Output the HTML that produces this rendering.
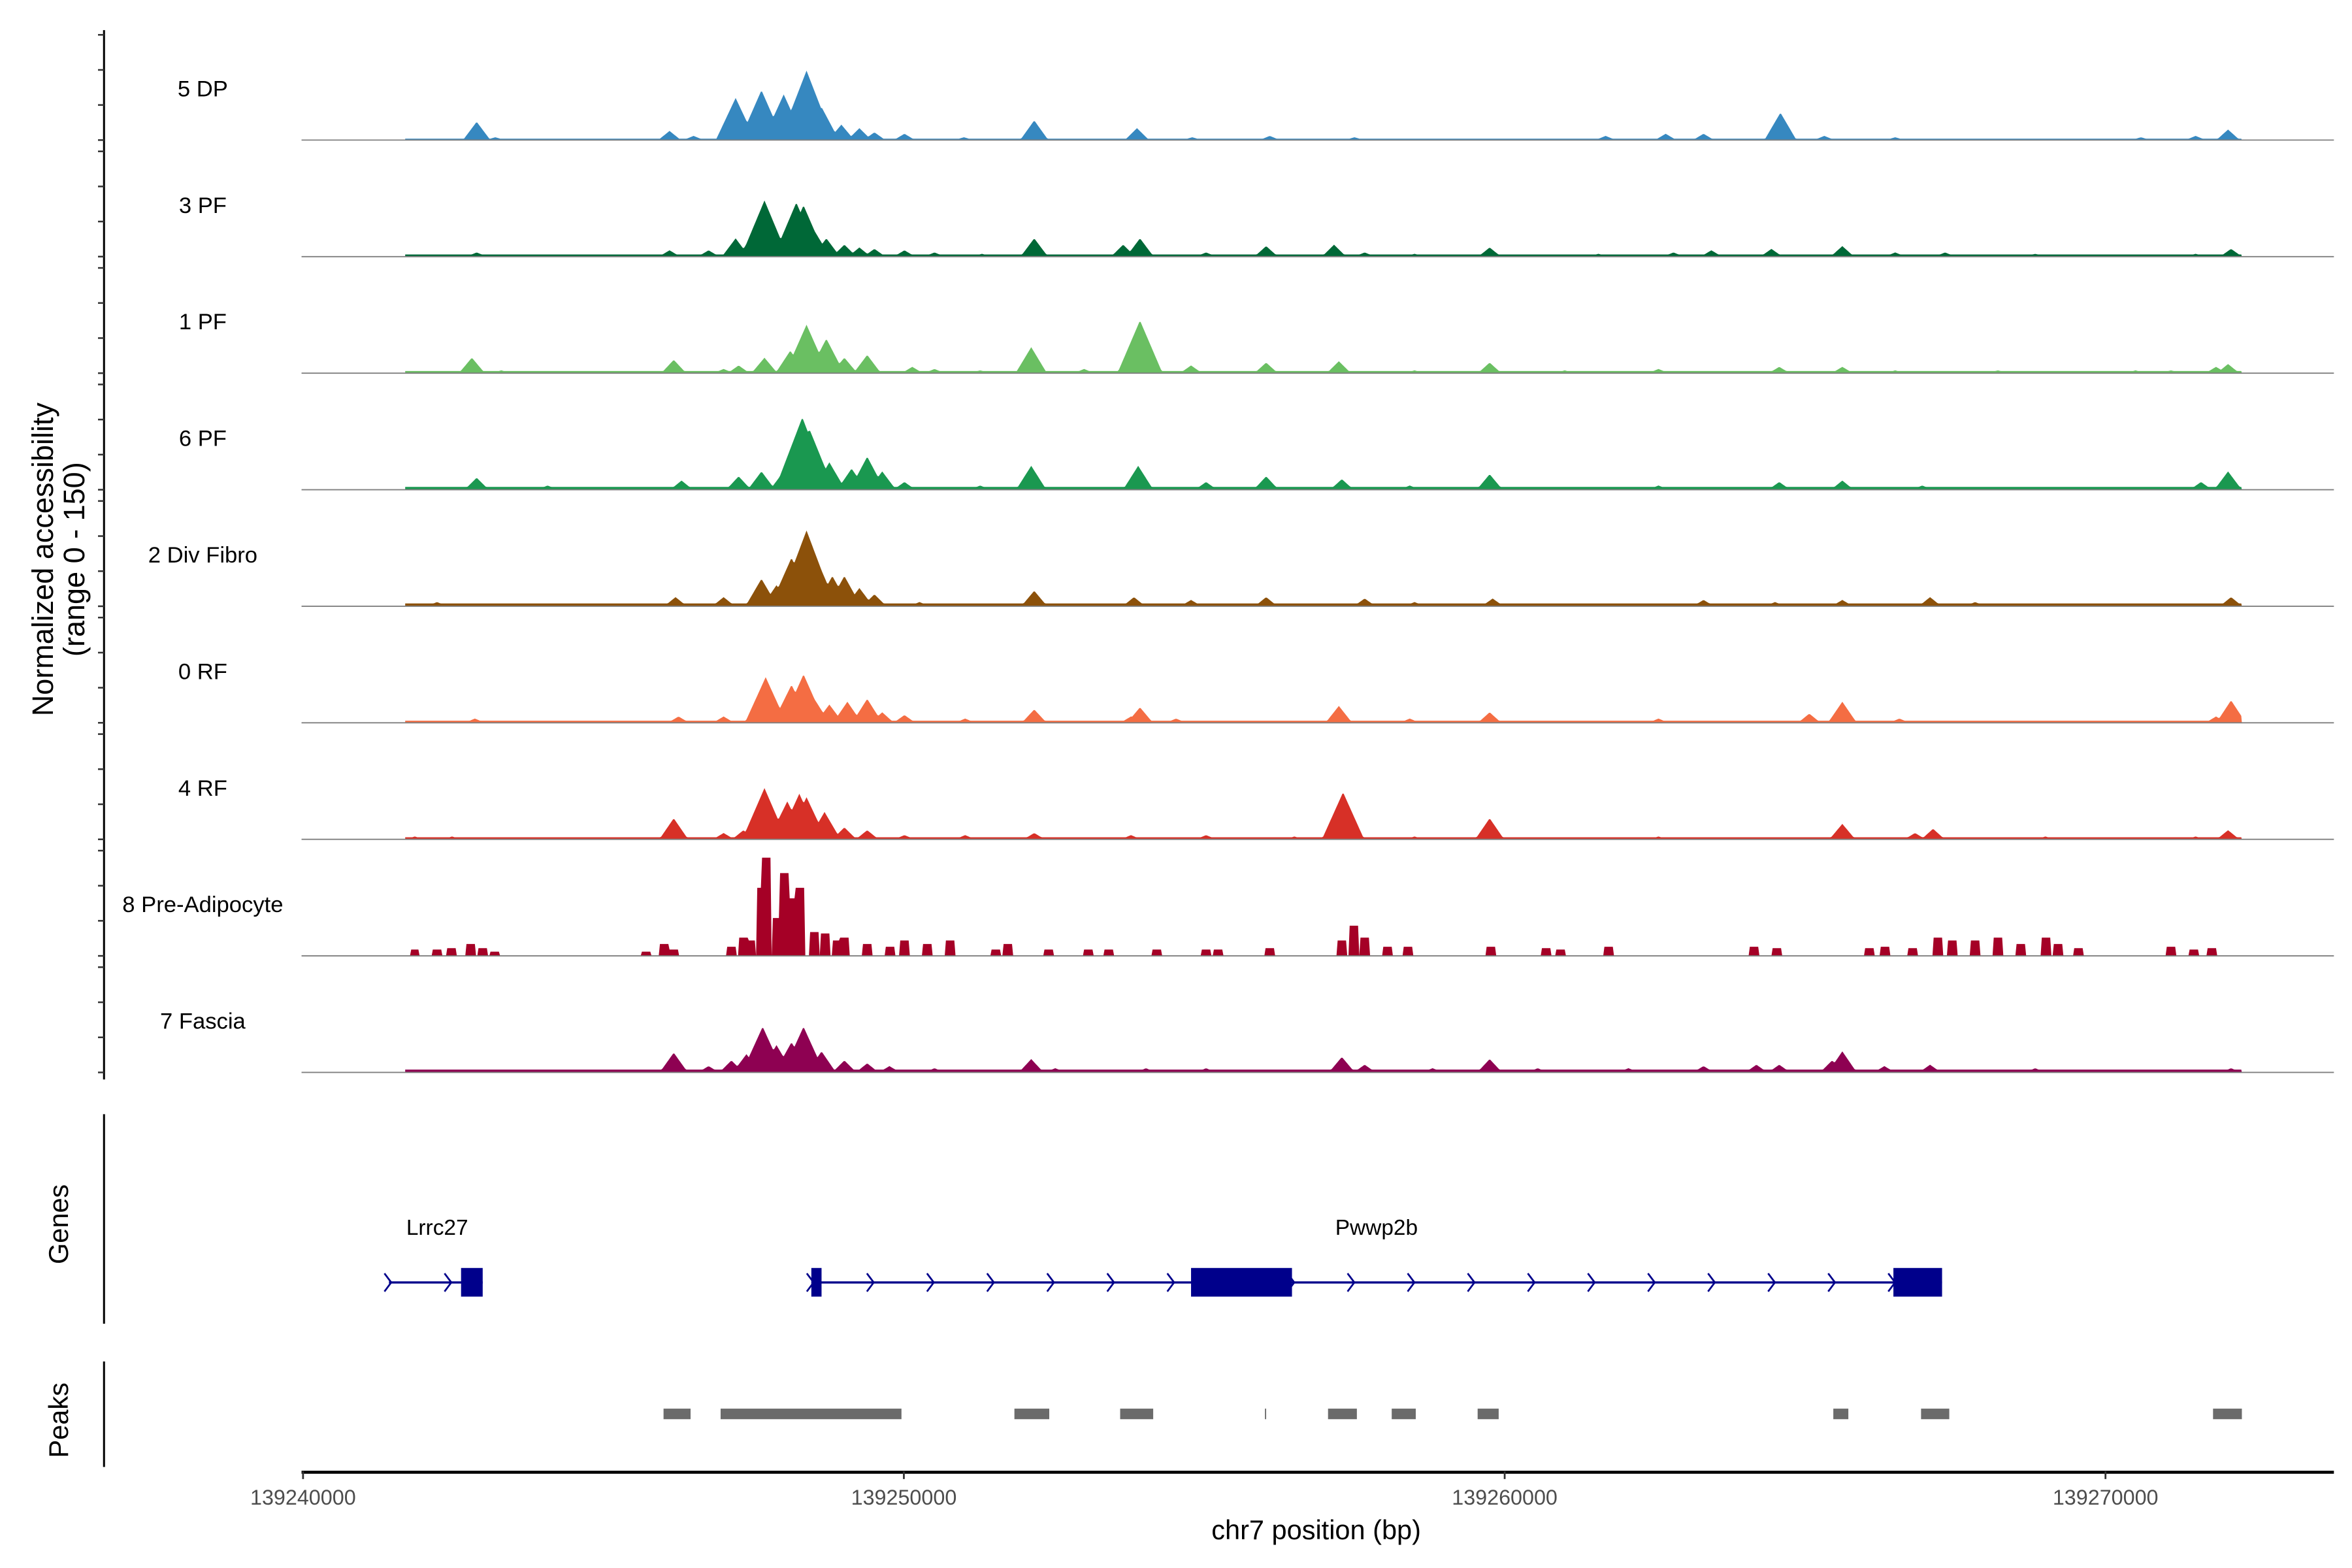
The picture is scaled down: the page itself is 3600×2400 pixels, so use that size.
<!DOCTYPE html>
<html><head><meta charset="utf-8"><style>
html,body{margin:0;padding:0;background:#fff;}
svg{display:block;}
text{font-family:"Liberation Sans",Arial,sans-serif;}
</style></head><body>
<svg id="chart" width="3600" height="2400" viewBox="0 0 1560 1040" xmlns="http://www.w3.org/2000/svg">
<rect x="0" y="0" width="1560" height="1040" fill="#fff"/>
<g id="tracks"></g>
<g id="yaxis"></g>
<text transform="translate(35,371) rotate(-90)" text-anchor="middle" font-size="19.5">Normalized accessibility</text>
<text transform="translate(56,371) rotate(-90)" text-anchor="middle" font-size="19.5">(range 0 - 150)</text>
<line x1="69" y1="739" x2="69" y2="878" stroke="#000" stroke-width="1.3"/>
<text transform="translate(45,812) rotate(-90)" text-anchor="middle" font-size="18">Genes</text>
<g id="genes"></g>
<line x1="69" y1="903" x2="69" y2="973" stroke="#000" stroke-width="1.3"/>
<text transform="translate(45,942) rotate(-90)" text-anchor="middle" font-size="18">Peaks</text>
<g id="peaks"></g>
<line x1="200" y1="976.5" x2="1548" y2="976.5" stroke="#000" stroke-width="2"/>
<g id="xaxis"></g>
<text x="873" y="1021" text-anchor="middle" font-size="18">chr7 position (bp)</text>
</svg>
<script>
// positions in kb offset from 139240000; values in normalized accessibility (0-150)
const trackNames = ["5 DP","3 PF","1 PF","6 PF","2 Div Fibro","0 RF","4 RF","8 Pre-Adipocyte","7 Fascia"];
const trackColors = ["#3688c0","#006837","#6abf62","#1a9850","#8c510a","#f46d43","#d73027","#a50026","#8e0152"];
const floorVals = [2,3,3,4,4,3,3,0,4];
const dpPos = [2.2,2.89,3.2,4.5,5.2,6.1,6.5,7.2,7.45,7.63,7.88,8.0,8.21,8.38,8.63,8.96,9.26,9.51,10.01,11.0,12.17,13.88,14.8,16.09,17.5,21.68,22.68,23.31,24.59,25.32,26.5,28.5,30.59,31.5,32.04];
const dpVal = [2,26,4,2,2,13,6,60,17,71,26,65,43,99,47,22,17,11,9,4,28,17,4,6,4,6,9,9,39,6,4,2,4,6,15];
const pf3Pos = [2.0,2.89,3.5,5.2,6.1,6.75,7.2,7.5,7.68,7.88,8.21,8.33,8.51,8.71,9.01,9.26,9.51,10.01,10.51,11.3,12.17,13.65,13.93,15.03,16.03,17.16,17.67,18.5,19.75,21.56,22.81,23.44,24.44,25.62,26.5,27.33,28.83,31.5,32.09];
const pf3Val = [2,6,2,2,9,9,26,34,80,26,77,73,37,26,17,13,11,9,6,4,26,17,26,6,15,17,6,4,13,4,6,9,11,15,6,6,4,4,11];
const pf1Pos = [2.2,2.81,3.3,4.5,6.17,7.0,7.25,7.68,8.11,8.38,8.71,9.01,9.39,10.14,10.51,11.27,12.12,13.0,13.93,14.78,16.03,17.24,18.5,19.75,21.0,22.56,24.57,25.62,26.5,28.21,30.5,31.09,31.84,32.04];
const pf1Val = [2,22,4,2,19,6,11,22,32,69,49,22,26,9,6,4,37,6,75,11,15,17,4,15,4,6,9,9,4,4,4,4,9,13];
const pf6Pos = [2.0,2.89,4.07,5.2,6.3,7.25,7.63,8.0,8.31,8.43,8.76,9.13,9.39,9.64,10.01,11.27,12.12,13.0,13.9,15.03,16.03,17.29,18.42,19.75,20.8,22.56,24.57,25.62,26.95,28.08,30.0,31.59,32.04];
const pf6Val = [2,17,6,2,13,19,26,26,103,86,39,30,47,26,11,6,34,4,34,11,19,15,6,22,4,6,11,13,6,4,4,11,26];
const divPos = [2.23,2.99,4.5,6.2,7.0,7.63,7.88,8.13,8.38,8.51,8.81,9.01,9.26,9.51,10.26,11.5,12.17,13.83,14.78,16.03,17.67,18.5,19.8,21.05,23.31,24.5,25.62,27.08,27.83,29.0,30.09,31.0,32.09];
const divVal = [6,4,2,13,13,39,30,69,108,75,43,43,26,17,6,4,22,13,9,13,11,6,11,4,9,6,9,13,6,4,4,4,13];
const rf0Pos = [2.0,2.86,4.5,6.25,7.0,7.63,7.7,8.13,8.33,8.51,8.76,9.06,9.39,9.64,10.01,11.02,12.17,13.78,13.93,14.53,17.24,18.42,19.75,22.56,25.07,25.62,26.57,29.0,31.84,32.09];
const rf0Val = [2,6,2,9,9,43,65,54,69,34,26,30,34,15,11,6,19,9,22,6,24,6,15,6,13,30,6,2,9,32];
const rf4Pos = [1.86,2.48,3.3,5.0,6.17,7.0,7.33,7.68,8.06,8.26,8.38,8.68,9.01,9.39,10.01,11.02,12.17,13.78,15.03,16.5,17.31,18.5,19.75,22.56,25.62,26.83,27.13,29.0,31.5,32.04];
const rf4Val = [4,4,2,2,30,9,13,73,54,65,60,39,17,13,6,6,9,6,6,4,67,4,30,4,22,9,15,4,4,13];
const prePos = [1.86,2.23,2.48,2.79,2.99,3.19,5.70,6.00,6.17,7.13,7.33,7.45,7.63,7.70,7.88,8.00,8.13,8.26,8.51,8.68,8.88,9.01,9.39,9.76,10.01,10.39,10.77,11.52,11.72,12.40,13.07,13.40,14.20,15.03,15.23,16.09,17.29,17.49,17.67,18.04,18.39,19.77,20.68,20.93,21.73,24.14,24.52,26.07,26.32,26.78,27.20,27.45,27.83,28.21,28.58,29.01,29.21,29.54,31.09,31.47,31.77];
const preVal = [9,9,11,17,11,6,6,17,9,13,26,22,97,140,54,118,82,97,34,32,22,26,17,13,22,17,22,9,17,9,9,9,9,9,9,11,22,43,26,13,13,13,11,9,13,13,11,11,13,11,26,22,22,26,17,26,17,11,13,9,11];
const fasPos = [1.98,2.48,3.5,4.5,6.17,6.75,7.13,7.38,7.65,7.88,8.13,8.33,8.63,9.01,9.39,9.76,10.51,12.12,12.52,14.03,15.03,17.29,17.67,18.8,19.75,20.55,22.06,23.31,24.19,24.57,25.45,25.62,26.32,27.08,28.83,30.5,32.09];
const fasVal = [4,4,2,2,28,9,17,26,65,39,43,65,30,17,13,9,6,19,6,6,6,22,11,6,19,6,6,9,11,11,17,30,9,11,6,4,6];
const geneNames = ["Lrrc27","Pwwp2b"];
const geneStart = [1.43,8.46];
const geneEnd = [2.99,27.28];
const exonStart = [2.63,8.46,14.78,26.47];
const exonEnd = [2.99,8.63,16.46,27.28];
const peakStart = [6.00,6.95,11.84,13.60,16.01,17.06,18.12,19.55,25.47,26.93,31.79];
const peakEnd = [6.45,9.96,12.42,14.15,16.03,17.54,18.52,19.90,25.72,27.40,32.27];
const xTicks = [139240000,139250000,139260000,139270000];
const yTickVals = [0,50,100,150];

const NS="http://www.w3.org/2000/svg";
const origin=139240000;
function xs(kb){return 201+kb*39.85;}
function xbp(bp){return xs((bp-origin)/1000);}
const base0=92.9, spacing=77.3, yRange=150, yPx=69.8;
function ys(i,v){return base0+i*spacing - v/yRange*yPx;}
function mk(tag,attrs,parent){const e=document.createElementNS(NS,tag);for(const k in attrs)e.setAttribute(k,attrs[k]);parent.appendChild(e);return e;}

const posList=[dpPos,pf3Pos,pf1Pos,pf6Pos,divPos,rf0Pos,rf4Pos,prePos,fasPos];
const valList=[dpVal,pf3Val,pf1Val,pf6Val,divVal,rf0Val,rf4Val,preVal,fasVal];
const tg=document.getElementById('tracks');
for(let i=0;i<trackNames.length;i++){
  const P=posList[i],V=valList[i],n=Math.min(P.length,V.length);
  const narrow=(i===7);
  let d="M"+xs(1.7)+","+ys(i,0);
  for(let k=1.7;k<=32.27;k+=0.02){
    let m=floorVals[i];
    for(let j=0;j<n;j++){
      const w=narrow?0.08:(0.15+V[j]*0.003);
      const dd=Math.abs(k-P[j]);
      let f=narrow?(dd<w?1:0):Math.max(0,1-dd/w);
      m=Math.max(m,V[j]*f);
    }
    d+="L"+xs(k).toFixed(2)+","+ys(i,m).toFixed(2);
  }
  d+="L"+xs(32.27)+","+ys(i,0)+"Z";
  const p=mk('path',{d:d,fill:trackColors[i]},tg);
  
  
  const bl=mk('line',{x1:200,x2:1548,y1:ys(i,0),y2:ys(i,0),stroke:'#7f7f7f','stroke-width':0.8},tg);
  
  
  const t=mk('text',{x:134.5,y:ys(i,0)-29,'text-anchor':'middle','font-size':15},tg);
  t.textContent=trackNames[i];
  
  
}
// y axis
const ya=document.getElementById('yaxis');
const al=mk('line',{x1:69,x2:69,y1:20,y2:716,stroke:'#000','stroke-width':1.3},ya);


for(let i=0;i<trackNames.length;i++){
  for(const v of yTickVals){
    const tk=mk('line',{x1:65,x2:69,y1:ys(i,v),y2:ys(i,v),stroke:'#333','stroke-width':1.1},ya);
    
    
  }
}
// genes
const gg=document.getElementById('genes');
const gy=850.6;
for(let g=0;g<geneNames.length;g++){
  const ln=mk('line',{x1:xs(geneStart[g]),x2:xs(geneEnd[g]),y1:gy,y2:gy,stroke:'#00008b','stroke-width':1.5},gg);
  
  
  for(let k=geneStart[g];k<geneEnd[g]-0.1;k+=1.0){
    const x=xs(k);
    const c=mk('path',{d:`M${x-3},${gy-6}L${x+1.5},${gy}L${x-3},${gy+6}`,fill:'none',stroke:'#00008b','stroke-width':1.2},gg);
    
    
  }
}
for(let e=0;e<exonStart.length;e++){
  const r=mk('rect',{x:xs(exonStart[e]),y:841,width:Math.max(1,xs(exonEnd[e])-xs(exonStart[e])),height:19,fill:'#00008b'},gg);
  
  
}
const gl1=mk('text',{x:290,y:819,'text-anchor':'middle','font-size':14.5},gg);gl1.textContent=geneNames[0];


const gl2=mk('text',{x:913,y:819,'text-anchor':'middle','font-size':14.5},gg);gl2.textContent=geneNames[1];


// peaks
const pg=document.getElementById('peaks');
for(let i=0;i<peakStart.length;i++){
  const r=mk('rect',{x:xs(peakStart[i]),y:934.3,width:Math.max(0.8,xs(peakEnd[i])-xs(peakStart[i])),height:7,fill:'#6b6b6b'},pg);
  
  
}
// x axis
const xa=document.getElementById('xaxis');
for(const t of xTicks){
  const x=xbp(t);
  const tk=mk('line',{x1:x,x2:x,y1:976,y2:981,stroke:'#333','stroke-width':1.2},xa);
  
  
  const lb=mk('text',{x:x,y:998,'text-anchor':'middle','font-size':14,fill:'#4d4d4d'},xa);
  lb.textContent=String(t);
  
  
}
</script>
</body></html>
